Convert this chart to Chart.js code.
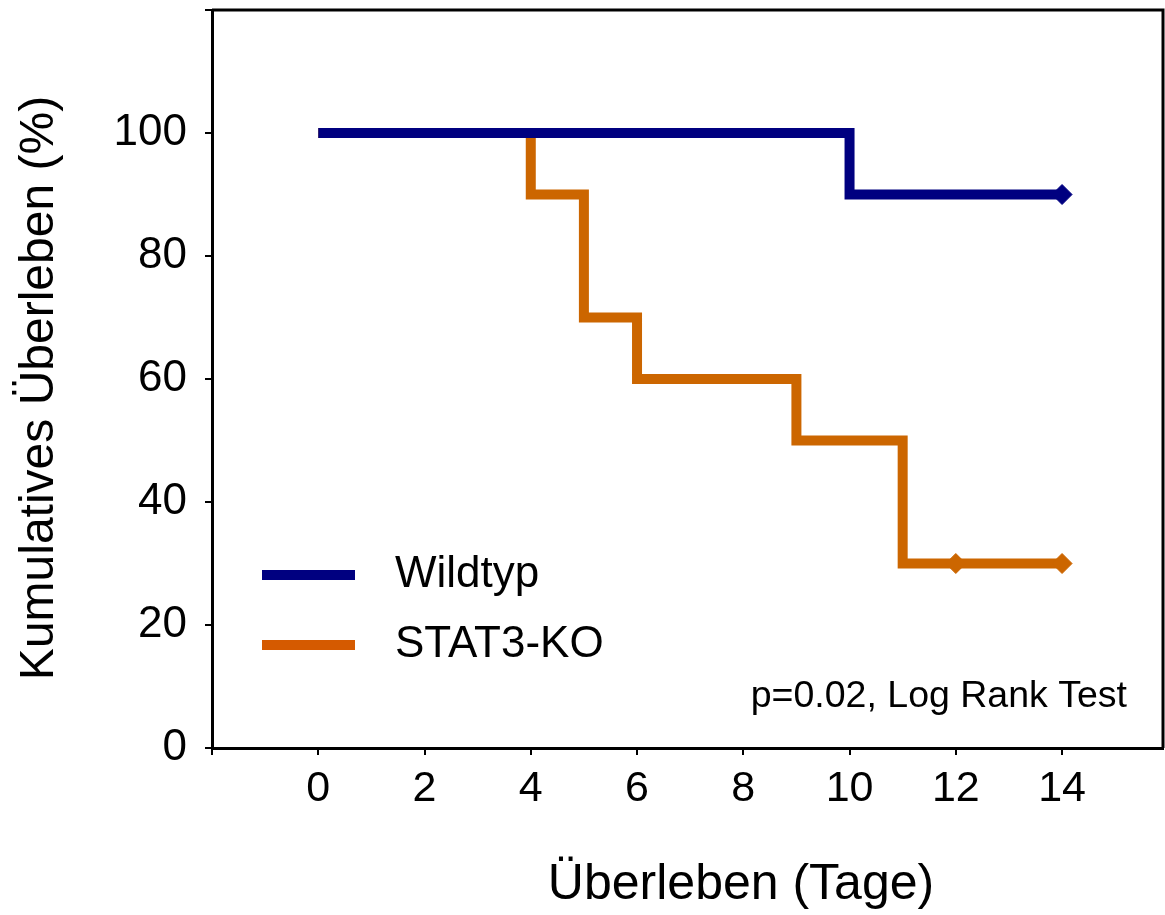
<!DOCTYPE html>
<html>
<head>
<meta charset="utf-8">
<script src="https://cdn.jsdelivr.net/npm/chart.js@4/dist/chart.umd.min.js"></script>
<style>
  html, body { margin: 0; padding: 0; background: #fff; }
</style>
</head>
<body>
<canvas id="km" width="1165" height="915"></canvas>
<script>
// Kaplan-Meier data (days / survival %)
const wildDays = [0, 10, 14];
const wildSurv = [100, 90, 90];
const wildCensored = [14];
const koDays = [0, 4, 5, 6, 9, 11, 12, 14];
const koSurv = [100, 90, 70, 60, 50, 30, 30, 30];
const koCensored = [12, 14];
const xTicks = [-2, 0, 2, 4, 6, 8, 10, 12, 14];
const yTicks = [0, 20, 40, 60, 80, 100, 120];
const seriesNames = ["Wildtyp", "STAT3-KO"];
const pText = "p=0.02, Log Rank Test";

const FONT = "'Liberation Sans', Arial, sans-serif";
const BLUE = "#000080";
const ORANGE = "#CC6600";

const toPoints = (xs, ys) => xs.map((x, i) => ({ x, y: ys[i] }));

const extras = {
  id: "extras",
  afterDraw(chart) {
    const { ctx, chartArea: a } = chart;
    ctx.save();
    // top + right frame
    ctx.strokeStyle = "#000";
    ctx.lineWidth = 3;
    ctx.beginPath();
    ctx.moveTo(a.left, a.top);
    ctx.lineTo(a.right, a.top);
    ctx.lineTo(a.right, a.bottom);
    ctx.stroke();

    // legend
    const leg = [[seriesNames[0], BLUE, 575], [seriesNames[1], "#D55A00", 645]];
    ctx.font = "44px " + FONT;
    ctx.textBaseline = "middle";
    ctx.textAlign = "left";
    leg.forEach(([name, col, y]) => {
      ctx.strokeStyle = col;
      ctx.lineWidth = 10;
      ctx.beginPath();
      ctx.moveTo(262, y);
      ctx.lineTo(355, y);
      ctx.stroke();
      ctx.fillStyle = "#000";
      ctx.fillText(name, 395, y);
    });

    // p-value
    ctx.font = "37.5px " + FONT;
    ctx.textAlign = "right";
    ctx.fillText(pText, 1127, 697);

    // axis titles
    ctx.font = "50px " + FONT;
    ctx.textAlign = "center";
    ctx.fillText("Überleben (Tage)", 741, 885);
    ctx.font = "48px " + FONT;
    ctx.translate(40, 388);
    ctx.rotate(-Math.PI / 2);
    ctx.fillText("Kumulatives Überleben (%)", 0, 0);
    ctx.restore();
  }
};

new Chart(document.getElementById("km"), {
  type: "line",
  data: {
    datasets: [
      {
        label: seriesNames[0],
        data: toPoints(wildDays, wildSurv),
        stepped: "before",
        borderColor: BLUE,
        backgroundColor: BLUE,
        borderWidth: 10,
        pointStyle: "rectRot",
        pointRadius: c => wildCensored.includes(c.raw.x) ? 10 : 0,
        pointBorderWidth: 1
      },
      {
        label: seriesNames[1],
        data: toPoints(koDays, koSurv),
        stepped: "before",
        borderColor: ORANGE,
        backgroundColor: ORANGE,
        borderWidth: 10,
        pointStyle: "rectRot",
        pointRadius: c => koCensored.includes(c.raw.x) ? 10 : 0,
        pointBorderWidth: 1
      }
    ]
  },
  options: {
    responsive: false,
    animation: false,
    devicePixelRatio: 1,
    layout: { autoPadding: false, padding: { top: 10, right: 2, left: 0, bottom: 0 } },
    plugins: { legend: { display: false }, tooltip: { enabled: false } },
    scales: {
      x: {
        type: "linear",
        min: -2,
        max: 15.9,
        afterBuildTicks: s => { s.ticks = xTicks.map(v => ({ value: v })); },
        afterFit: s => { s.height = 167; s.paddingLeft = 0; s.paddingRight = 0; },
        ticks: {
          color: "#000",
          font: { family: FONT, size: 43 },
          padding: 8,
          maxRotation: 0,
          callback: v => v < 0 ? "" : v
        },
        grid: { drawOnChartArea: false, drawTicks: true, tickLength: 7, color: "#000", lineWidth: 2 },
        border: { display: true, color: "#000", width: 3 }
      },
      y: {
        type: "linear",
        min: 0,
        max: 120,
        afterBuildTicks: s => { s.ticks = yTicks.map(v => ({ value: v })); },
        afterFit: s => { s.width = 212; s.paddingTop = 0; s.paddingBottom = 0; },
        ticks: {
          color: "#000",
          font: { family: FONT, size: 44 },
          padding: 18,
          callback: v => v > 100 ? "" : v
        },
        grid: { drawOnChartArea: false, drawTicks: true, tickLength: 7, color: "#000", lineWidth: 2 },
        border: { display: true, color: "#000", width: 3 }
      }
    }
  },
  plugins: [extras]
});
</script>
</body>
</html>
